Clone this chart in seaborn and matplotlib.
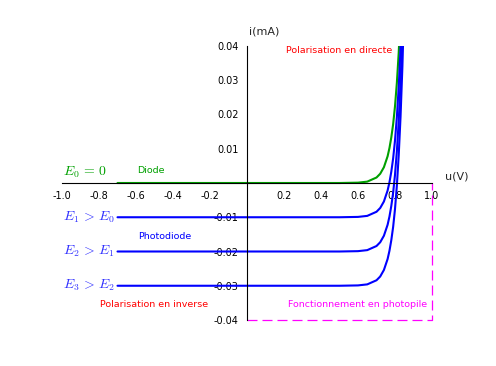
import numpy as np
import pandas as pd
import seaborn as sns
import matplotlib.pyplot as plt

# diode characteristic (green)
u_diode = [-0.70, 0.00, 0.50, 0.60, 0.65, 0.70, 0.72, 0.74, 0.76, 0.77, 0.78,
           0.79, 0.80, 0.81, 0.82, 0.83]
i_diode = [0.0, 0.0, 0.0, 0.0001, 0.0004, 0.0016, 0.0027, 0.0046, 0.0078,
           0.0102, 0.0133, 0.0172, 0.0224, 0.0292, 0.0380, 0.0494]

# photodiode characteristics (blue), E1 < E2 < E3
u_photo = [-0.70, 0.00, 0.50, 0.60, 0.65, 0.70, 0.72, 0.74, 0.76, 0.77, 0.78,
           0.79, 0.80, 0.81, 0.82, 0.83, 0.84, 0.85]
i_e1 = [-0.0100, -0.0100, -0.0100, -0.0099, -0.0096, -0.0084, -0.0073, -0.0054,
        -0.0022, 0.0002, 0.0033, 0.0072, 0.0124, 0.0192, 0.0280, 0.0394, 0.054, 0.073]
i_e2 = [-0.0200, -0.0200, -0.0200, -0.0199, -0.0196, -0.0184, -0.0173, -0.0154,
        -0.0122, -0.0098, -0.0067, -0.0028, 0.0024, 0.0092, 0.0180, 0.0294, 0.044, 0.063]
i_e3 = [-0.0300, -0.0300, -0.0300, -0.0299, -0.0296, -0.0284, -0.0273, -0.0254,
        -0.0222, -0.0198, -0.0167, -0.0128, -0.0076, -0.0008, 0.0080, 0.0194, 0.034, 0.053]

# photopile region boundary
pile_u = [0.0, 1.0, 1.0]
pile_i = [-0.04, -0.04, 0.0]

x_ticks = [-1.0, -0.8, -0.6, -0.4, -0.2, 0.2, 0.4, 0.6, 0.8, 1.0]
y_ticks = [-0.04, -0.03, -0.02, -0.01, 0.01, 0.02, 0.03, 0.04]

curve_labels = [r'$E_0\,=\,0$', r'$E_1\,>\,E_0$', r'$E_2\,>\,E_1$', r'$E_3\,>\,E_2$']
curve_levels = [0.0032, -0.0101, -0.0199, -0.0300]

sns.set_style('white')
plt.rcParams['mathtext.fontset'] = 'cm'

GREEN = '#00a000'
BLUE = '#0000ff'

fig = plt.figure(figsize=(4.96, 3.66), dpi=100)
ax = fig.add_axes([62 / 496, 46 / 366, 370 / 496, 274 / 366])

df_d = pd.DataFrame({'u': u_diode, 'i': i_diode})
sns.lineplot(data=df_d, x='u', y='i', color=GREEN, lw=1.5, ax=ax, estimator=None, sort=False)
for vals in (i_e1, i_e2, i_e3):
    df_p = pd.DataFrame({'u': u_photo, 'i': vals})
    sns.lineplot(data=df_p, x='u', y='i', color=BLUE, lw=1.5, ax=ax, estimator=None, sort=False)

ax.plot(pile_u, pile_i, color='#ff00ff', lw=0.9, ls=(0, (8, 4)), clip_on=False)

ax.set_xlim(-1.0, 1.0)
ax.set_ylim(-0.04, 0.04)
ax.spines['left'].set_position('zero')
ax.spines['bottom'].set_position('zero')
ax.spines['top'].set_visible(False)
ax.spines['right'].set_visible(False)
for s in ('left', 'bottom'):
    ax.spines[s].set_color('black')
    ax.spines[s].set_linewidth(0.8)
ax.set_xticks(x_ticks)
ax.set_xticklabels([f'{v:.1f}' for v in x_ticks])
ax.set_yticks(y_ticks)
ax.set_yticklabels([f'{v:.2f}' for v in y_ticks])
ax.tick_params(axis='both', direction='out', length=4, width=0.8, colors='black', labelsize=7, pad=2)
ax.set_xlabel('')
ax.set_ylabel('')

ax.text(0.01, 0.0442, 'i(mA)', fontsize=8, ha='left', va='center')
ax.text(1.07, 0.0020, 'u(V)', fontsize=8, ha='left', va='center')

ax.text(0.50, 0.0386, 'Polarisation en directe', color='red', fontsize=6.8, ha='center', va='center')
ax.text(-0.52, 0.0036, 'Diode', color=GREEN, fontsize=6.8, ha='center', va='center')
ax.text(-0.445, -0.0155, 'Photodiode', color=BLUE, fontsize=6.8, ha='center', va='center')
ax.text(-0.50, -0.0356, 'Polarisation en inverse', color='red', fontsize=6.8, ha='center', va='center')
ax.text(0.595, -0.0356, 'Fonctionnement en photopile', color='#ff00ff', fontsize=6.8, ha='center', va='center')

for k, (lab, lev) in enumerate(zip(curve_labels, curve_levels)):
    ax.text(-0.995, lev, lab, color=GREEN if k == 0 else '#3030ff', fontsize=10, ha='left', va='center')

fig.savefig('out.png', dpi=100)
